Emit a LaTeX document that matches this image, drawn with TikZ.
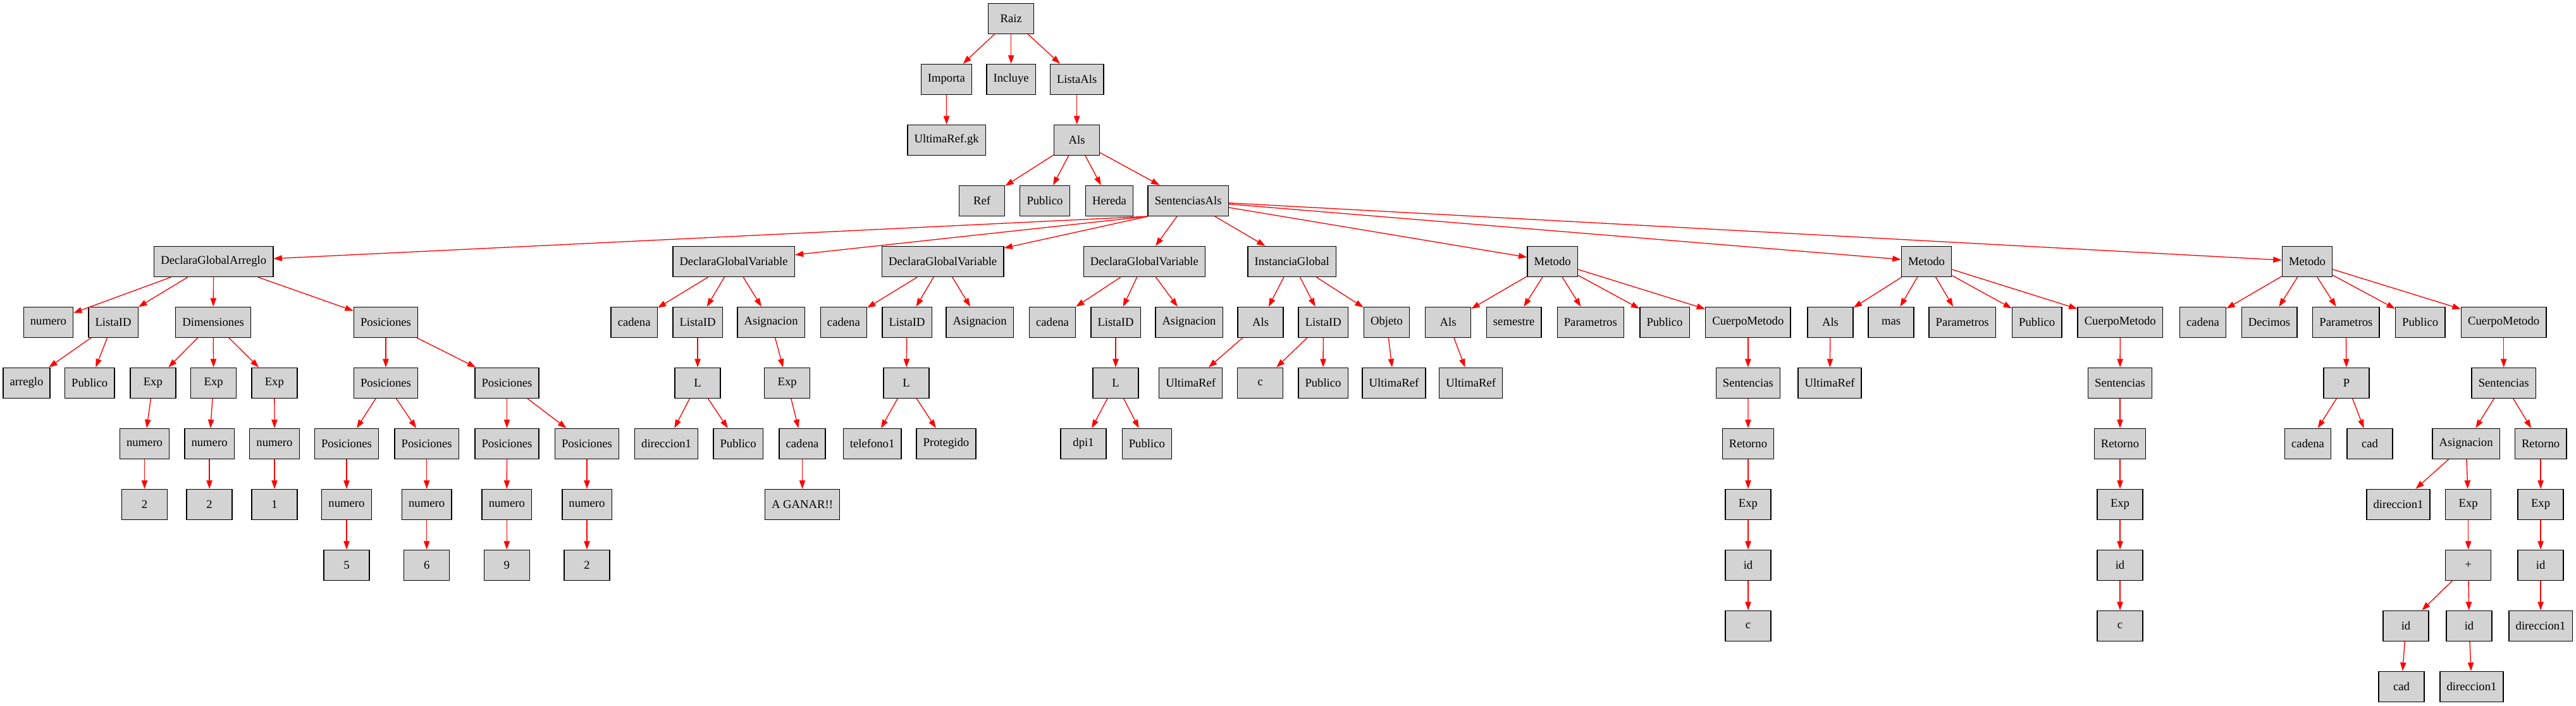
\documentclass[tikz,border=0pt]{standalone}
\usepackage{fontspec}
\setmainfont{Liberation Serif}
\usetikzlibrary{arrows.meta}
\definecolor{gvgray}{HTML}{D3D3D3}
\definecolor{gvred}{HTML}{FF0000}
\tikzset{
  box/.style={draw=black, fill=gvgray, line width=1pt, minimum width=54pt,
    minimum height=36pt, inner xsep=8pt, inner ysep=0pt,
    font=\fontsize{14}{16}\selectfont},
  edge/.style={draw=gvred, line width=1pt, -{Triangle[length=10pt,width=7pt]}}
}
\begin{document}
\begin{tikzpicture}[x=1pt,y=1pt]
\useasboundingbox (0,0) rectangle (3054.75,-836.25);
% rank 0
\node[box] (raiz) at (1199,-22) {Raiz};
% rank 1
\node[box] (importa) at (1122.3,-94) {Importa};
\node[box] (incluye) at (1199,-94) {Incluye};
\node[box] (listaals) at (1277,-94) {ListaAls};
% rank 2
\node[box] (ultgk) at (1122.5,-166) {UltimaRef.gk};
\node[box] (als) at (1277,-166) {Als};
% rank 3
\node[box] (ref) at (1164.5,-238) {Ref};
\node[box] (pub0) at (1239,-238) {Publico};
\node[box] (hereda) at (1315.5,-238) {Hereda};
\node[box] (sals) at (1409,-238) {SentenciasAls};
\coordinate (salsl) at ([xshift=0.5pt]sals.south west);
% rank 4
\node[box] (dga) at (253.3,-310) {DeclaraGlobalArreglo};
\node[box] (dgv1) at (870,-310) {DeclaraGlobalVariable};
\node[box] (dgv2) at (1118,-310) {DeclaraGlobalVariable};
\node[box] (dgv3) at (1357,-310) {DeclaraGlobalVariable};
\node[box] (inst) at (1532,-310) {InstanciaGlobal};
\node[box] (met1) at (1841,-310) {Metodo};
\node[box] (met2) at (2284.5,-310) {Metodo};
\node[box] (met3) at (2736,-310) {Metodo};
% rank 5
\node[box] (a1) at (57.3,-382) {numero};
\node[box] (a2) at (134.3,-382) {ListaID};
\node[box] (a3) at (252.8,-382) {Dimensiones};
\node[box] (a4) at (457.5,-382) {Posiciones};
\node[box] (b1) at (752,-382) {cadena};
\node[box] (b2) at (827.3,-382) {ListaID};
\node[box] (b3) at (914.3,-382) {Asignacion};
\node[box] (c1) at (1000.4,-382) {cadena};
\node[box] (c2) at (1075.5,-382) {ListaID};
\node[box] (c3) at (1161.8,-382) {Asignacion};
\node[box] (d1) at (1248,-382) {cadena};
\node[box] (d2) at (1323,-382) {ListaID};
\node[box] (d3) at (1410,-382) {Asignacion};
\node[box] (e1) at (1494.8,-382) {Als};
\node[box] (e2) at (1569.2,-382) {ListaID};
\node[box] (e3) at (1644.3,-382) {Objeto};
\node[box] (f1) at (1717.2,-382) {Als};
\node[box] (f2) at (1795.2,-382) {semestre};
\node[box] (f3) at (1886.1,-382) {Parametros};
\node[box] (f4) at (1974,-382) {Publico};
\node[box] (f5) at (2072.9,-382) {CuerpoMetodo};
\node[box] (g1) at (2170.5,-382) {Als};
\node[box] (g2) at (2242.5,-382) {mas};
\node[box] (g3) at (2327,-382) {Parametros};
\node[box] (g4) at (2415.5,-382) {Publico};
\node[box] (g5) at (2514.2,-382) {CuerpoMetodo};
\node[box] (h1) at (2612.3,-382) {cadena};
\node[box] (h2) at (2691,-382) {Decimos};
\node[box] (h3) at (2782,-382) {Parametros};
\node[box] (h4) at (2870,-382) {Publico};
\node[box] (h5) at (2969,-382) {CuerpoMetodo};
% rank 6
\node[box] (a21) at (31.5,-454) {arreglo};
\node[box] (a22) at (106.3,-454) {Publico};
\node[box] (a31) at (181.4,-454) {Exp};
\node[box] (a32) at (253.3,-454) {Exp};
\node[box] (a33) at (325.4,-454) {Exp};
\node[box] (a41) at (457.5,-454) {Posiciones};
\node[box] (a42) at (601.1,-454) {Posiciones};
\node[box] (b21) at (827.3,-454) {L};
\node[box] (b31) at (933.5,-454) {Exp};
\node[box] (c21) at (1074.8,-454) {L};
\node[box] (d21) at (1323,-454) {L};
\node[box] (e11) at (1412,-454) {UltimaRef};
\node[box] (e21) at (1494.5,-454) {c};
\node[box] (e22) at (1569,-454) {Publico};
\node[box] (e31) at (1653,-454) {UltimaRef};
\node[box] (f11) at (1744.3,-454) {UltimaRef};
\node[box] (f51) at (2072.9,-454) {Sentencias};
\node[box] (g11) at (2169.8,-454) {UltimaRef};
\node[box] (g51) at (2514,-454) {Sentencias};
\node[box] (h31) at (2782.5,-454) {P};
\node[box] (h51) at (2969,-454) {Sentencias};
% rank 7
\node[box] (a311) at (171.4,-526) {numero};
\node[box] (a321) at (248.3,-526) {numero};
\node[box] (a331) at (325.5,-526) {numero};
\node[box] (a411) at (411,-526) {Posiciones};
\node[box] (a412) at (506,-526) {Posiciones};
\node[box] (a421) at (601.1,-526) {Posiciones};
\node[box] (a422) at (696,-526) {Posiciones};
\node[box] (b211) at (790.2,-526) {direccion1};
\node[box] (b212) at (875.3,-526) {Publico};
\node[box] (b311) at (951.4,-526) {cadena};
\node[box] (c211) at (1034.3,-526) {telefono1};
\node[box] (c212) at (1122,-526) {Protegido};
\node[box] (d211) at (1284.8,-526) {dpi1};
\node[box] (d212) at (1360,-526) {Publico};
\node[box] (f511) at (2073,-526) {Retorno};
\node[box] (g511) at (2514,-526) {Retorno};
\node[box] (h311) at (2736.8,-526) {cadena};
\node[box] (h312) at (2810.3,-526) {cad};
\node[box] (h511) at (2924.3,-526) {Asignacion};
\node[box] (h512) at (3012.8,-526) {Retorno};
% rank 8
\node[box] (a3111) at (171.4,-598) {2};
\node[box] (a3211) at (248.3,-598) {2};
\node[box] (a3311) at (325.5,-598) {1};
\node[box] (a4111) at (411,-598) {numero};
\node[box] (a4121) at (506,-598) {numero};
\node[box] (a4211) at (601,-598) {numero};
\node[box] (a4221) at (696,-598) {numero};
\node[box] (b3111) at (951.4,-598) {A GANAR!!};
\node[box] (f5111) at (2073,-598) {Exp};
\node[box] (g5111) at (2514,-598) {Exp};
\node[box] (h5111) at (2844,-598) {direccion1};
\node[box] (h5112) at (2927,-598) {Exp};
\node[box] (h5121) at (3012.8,-598) {Exp};
% rank 9
\node[box] (a41111) at (411,-670) {5};
\node[box] (a41211) at (506,-670) {6};
\node[box] (a42111) at (601,-670) {9};
\node[box] (a42211) at (696,-670) {2};
\node[box] (f51111) at (2073,-670) {id};
\node[box] (g51111) at (2514,-670) {id};
\node[box] (h51121) at (2927,-670) {+};
\node[box] (h51211) at (3012.8,-670) {id};
% rank 10
\node[box] (f511111) at (2073,-742) {c};
\node[box] (g511111) at (2514,-742) {c};
\node[box] (h511211) at (2853,-742) {id};
\node[box] (h511212) at (2928,-742) {id};
\node[box] (h512111) at (3012.8,-742) {direccion1};
% rank 11
\node[box] (h5112111) at (2847.8,-814) {cad};
\node[box] (h5112121) at (2931,-814) {direccion1};
% edges leaving SentenciasAls to the far left start at its lower-left corner
\foreach \c in {dga, dgv1, dgv2}
  \draw[edge] (salsl) -- (\c);
% other edges
\foreach \p/\c in {raiz/importa, raiz/incluye, raiz/listaals,
  importa/ultgk, listaals/als,
  als/ref, als/pub0, als/hereda, als/sals,
  sals/dgv3, sals/inst, sals/met1, sals/met2, sals/met3,
  dga/a1, dga/a2, dga/a3, dga/a4,
  dgv1/b1, dgv1/b2, dgv1/b3,
  dgv2/c1, dgv2/c2, dgv2/c3,
  dgv3/d1, dgv3/d2, dgv3/d3,
  inst/e1, inst/e2, inst/e3,
  met1/f1, met1/f2, met1/f3, met1/f4, met1/f5,
  met2/g1, met2/g2, met2/g3, met2/g4, met2/g5,
  met3/h1, met3/h2, met3/h3, met3/h4, met3/h5,
  a2/a21, a2/a22, a3/a31, a3/a32, a3/a33, a4/a41, a4/a42,
  b2/b21, b3/b31, c2/c21, d2/d21,
  e1/e11, e2/e21, e2/e22, e3/e31,
  f1/f11, f5/f51, g1/g11, g5/g51, h3/h31, h5/h51,
  a31/a311, a32/a321, a33/a331,
  a41/a411, a41/a412, a42/a421, a42/a422,
  b21/b211, b21/b212, b31/b311, c21/c211, c21/c212, d21/d211, d21/d212,
  f51/f511, g51/g511, h31/h311, h31/h312, h51/h511, h51/h512,
  a311/a3111, a321/a3211, a331/a3311,
  a411/a4111, a412/a4121, a421/a4211, a422/a4221,
  b311/b3111, f511/f5111, g511/g5111,
  h511/h5111, h511/h5112, h512/h5121,
  a4111/a41111, a4121/a41211, a4211/a42111, a4221/a42211,
  f5111/f51111, g5111/g51111, h5112/h51121, h5121/h51211,
  f51111/f511111, g51111/g511111, h51121/h511211, h51121/h511212, h51211/h512111,
  h511211/h5112111, h511212/h5112121}
  \draw[edge] (\p) -- (\c);
\end{tikzpicture}
\end{document}
